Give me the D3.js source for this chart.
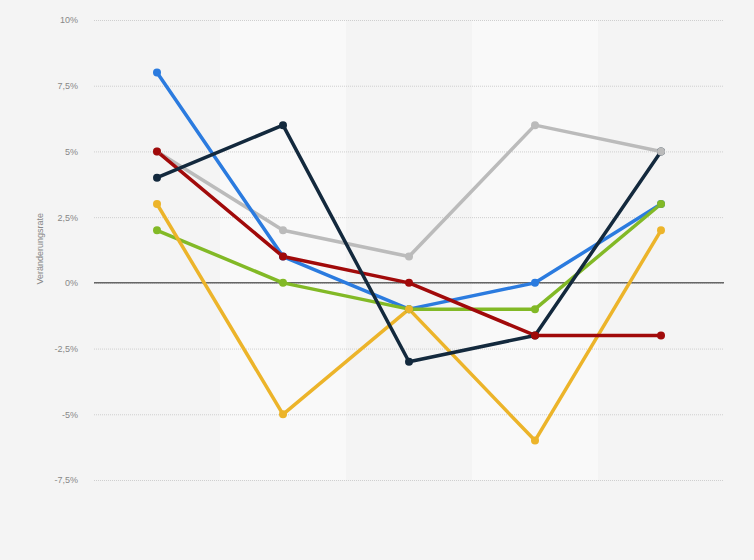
<!DOCTYPE html>
<html>
<head>
<meta charset="utf-8">
<script src="https://cdn.jsdelivr.net/npm/d3@7"></script>
<style>
    body { margin: 0; background: #f4f4f4; }
    svg { display: block; font-family: "Liberation Sans", Arial, sans-serif; }
</style>
</head>
<body>
<svg id="chart"></svg>
<script>
// Categories have no visible labels in the chart
let categories = ["1", "2", "3", "4", "5"];
let tickValues = [-7.5, -5, -2.5, 0, 2.5, 5, 7.5, 10];

// series values, in percent
let blueValues = [8, 1, -1, 0, 3];
let navyValues = [4, 6, -3, -2, 5];
let greyValues = [5, 2, 1, 6, 5];
let redValues = [5, 1, 0, -2, -2];
let greenValues = [2, 0, -1, -1, 3];
let yellowValues = [3, -5, -1, -6, 2];

let width = 754;
let height = 560;
let margin = {top: 20, right: 30, bottom: 80, left: 94};

let svg = d3.select("#chart").attr("width", width).attr("height", height);

svg.append("rect")
    .attr("width", width)
    .attr("height", height)
    .attr("fill", "#f4f4f4");

let x = d3.scaleBand()
    .domain(categories)
    .range([margin.left, width - margin.right]);

let y = d3.scaleLinear()
    .domain([-7.5, 10])
    .range([height - margin.bottom, margin.top]);

// Lighter bands on every second column
svg.selectAll(".band")
    .data(categories.filter(function(d, i){ return i % 2 == 1; }))
    .enter()
    .append("rect")
    .attr("class", "band")
    .attr("x", function(d){ return x(d); })
    .attr("y", y(10))
    .attr("width", x.bandwidth())
    .attr("height", y(-7.5) - y(10))
    .attr("fill", "#f9f9f9");

// Gridlines and tick labels
let yAxis = d3.axisLeft(y)
    .tickValues(tickValues)
    .tickSize(-(width - margin.left - margin.right))
    .tickPadding(16)
    .tickFormat(function(d){ return String(d).replace(".", ",") + "%"; });

let axisGroup = svg.append("g")
    .attr("transform", "translate(" + margin.left + ",0)")
    .call(yAxis);

axisGroup.select(".domain").remove();
axisGroup.selectAll(".tick line")
    .attr("stroke", "#cfcfcf")
    .attr("stroke-dasharray", "1,1");
axisGroup.selectAll(".tick text")
    .attr("fill", "#888888")
    .attr("font-size", 9);

// Zero line
svg.append("line")
    .attr("x1", margin.left)
    .attr("x2", width - margin.right)
    .attr("y1", y(0))
    .attr("y2", y(0))
    .attr("stroke", "#666666")
    .attr("stroke-width", 1.5);

svg.append("text")
    .attr("transform", "translate(43," + y(1.3) + ") rotate(-90)")
    .attr("text-anchor", "middle")
    .attr("fill", "#888888")
    .attr("font-size", 9)
    .text("Veränderungsrate");

let series = [
    {values: greyValues, color: "#bbbbbb"},
    {values: blueValues, color: "#2b7bdf"},
    {values: greenValues, color: "#82b926"},
    {values: yellowValues, color: "#ecb42a"},
    {values: redValues, color: "#a10a0a"},
    {values: navyValues, color: "#13293d"}
];

let cx = function(d, i){ return x(categories[i]) + x.bandwidth() / 2; };

let line = d3.line()
    .x(cx)
    .y(function(d){ return y(d); });

svg.selectAll(".seriesLine")
    .data(series)
    .enter()
    .append("path")
    .attr("class", "seriesLine")
    .attr("d", function(s){ return line(s.values); })
    .attr("fill", "none")
    .attr("stroke", function(s){ return s.color; })
    .attr("stroke-width", 3.5)
    .attr("stroke-linejoin", "round");

// Dots drawn after all lines, grey and red last
let dotOrder = [series[5], series[1], series[2], series[3], series[0], series[4]];
dotOrder.forEach(function(s){
    svg.selectAll(null)
        .data(s.values)
        .enter()
        .append("circle")
        .attr("cx", cx)
        .attr("cy", function(d){ return y(d); })
        .attr("r", 4)
        .attr("fill", s.color);
});
</script>
</body>
</html>
